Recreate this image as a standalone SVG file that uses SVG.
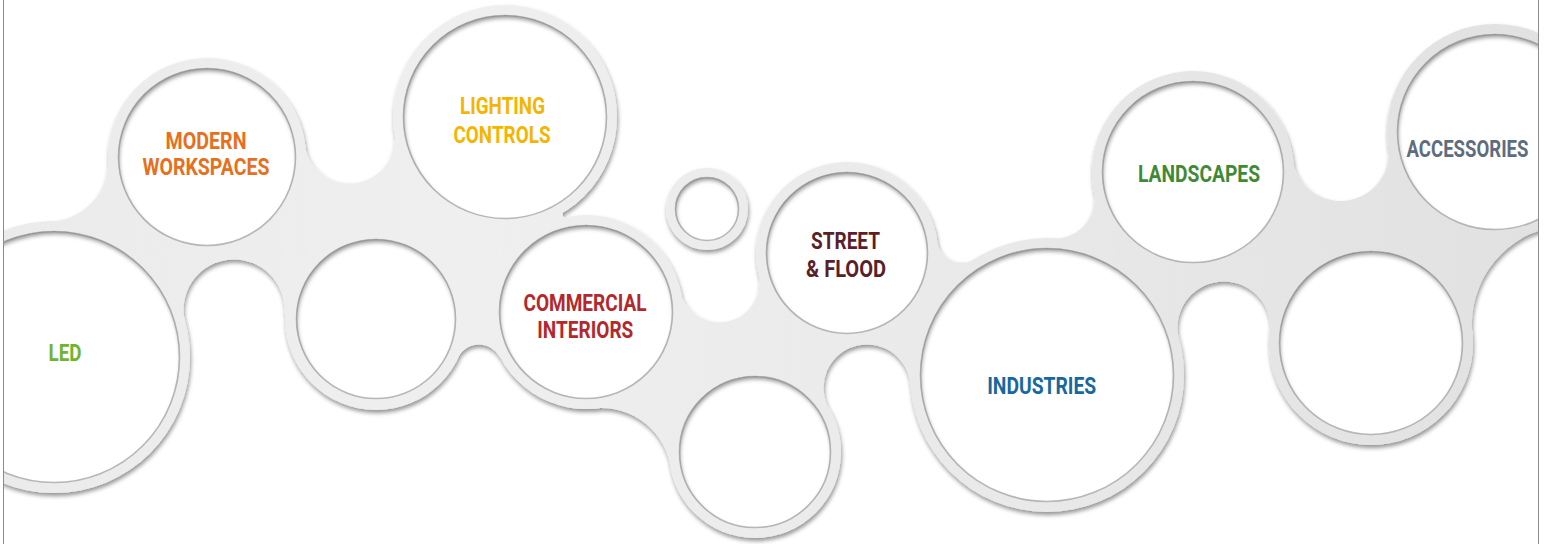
<svg xmlns="http://www.w3.org/2000/svg" width="1551" height="544" viewBox="0 0 1551 544">
<defs>
<style>
.lbl{font-family:Roboto,"Liberation Sans",Arial,sans-serif;font-weight:700;font-size:24px;text-anchor:middle}
.edge{fill:none;stroke:#8a8a8a;stroke-width:1.6;stroke-opacity:.6}
.frame{stroke:#8c8c8c;stroke-width:1}
</style>
<linearGradient id="gBand" gradientUnits="userSpaceOnUse" x1="0" y1="0" x2="1551" y2="0">
<stop offset="0" stop-color="#ebebeb"/><stop offset=".3" stop-color="#efefef"/><stop offset=".65" stop-color="#e9e9e9"/><stop offset="1" stop-color="#e1e1e1"/>
</linearGradient>
<filter id="fPlate" filterUnits="userSpaceOnUse" x="-20" y="-20" width="1600" height="600">
<feGaussianBlur in="SourceAlpha" stdDeviation="2.2" result="b"/>
<feOffset in="b" dx="1" dy="2.5" result="o"/>
<feFlood flood-color="#000" flood-opacity=".42"/>
<feComposite in2="o" operator="in" result="s"/>
<feMerge><feMergeNode in="s"/><feMergeNode in="SourceGraphic"/></feMerge>
</filter>
<filter id="fSoft" filterUnits="userSpaceOnUse" x="-20" y="-20" width="1600" height="600"><feGaussianBlur stdDeviation=".6"/></filter>
<mask id="mNotch" maskUnits="userSpaceOnUse" x="-200" y="-200" width="2000" height="900">
<rect x="-200" y="-200" width="2000" height="900" fill="#fff"/>
<g fill="#000">
<circle cx="48" cy="161" r="60.5"/>
<circle cx="349.6" cy="137.9" r="45.5"/>
<circle cx="566" cy="214" r="3.5"/>
<circle cx="719.4" cy="281.8" r="40.5"/>
<circle cx="961.9" cy="237.1" r="25.5"/>
<circle cx="1054.5" cy="198.1" r="40.5"/>
<circle cx="1340.5" cy="152.5" r="48.5"/>
<circle cx="1572.2" cy="325.2" r="100.5"/>
<circle cx="1223.9" cy="328" r="46.5"/>
<circle cx="867" cy="388" r="43.5"/>
<circle cx="601.2" cy="478.4" r="70.5"/>
<circle cx="478.9" cy="368" r="23.5"/>
<circle cx="234" cy="310" r="50.5"/>
</g>
</mask>
<mask id="mHole" maskUnits="userSpaceOnUse" x="-200" y="-200" width="2000" height="900">
<rect x="-200" y="-200" width="2000" height="900" fill="#fff"/>
<g fill="#000">
<circle cx="54" cy="357" r="126"/>
<circle cx="207" cy="157" r="89"/>
<circle cx="505" cy="117" r="102"/>
<circle cx="376" cy="319" r="80"/>
<circle cx="586" cy="312" r="87"/>
<circle cx="707" cy="209" r="32"/>
<circle cx="847" cy="253" r="81"/>
<circle cx="755" cy="452" r="76"/>
<circle cx="1047" cy="375" r="127"/>
<circle cx="1193" cy="172" r="91"/>
<circle cx="1371" cy="343" r="92"/>
<circle cx="1495" cy="132" r="98"/>
</g>
</mask>
<clipPath id="cFrame"><rect x="4" y="0" width="1534" height="544"/></clipPath>
</defs>
<rect width="1551" height="544" fill="#fff"/>
<g id="connectors" clip-path="url(#cFrame)">
<g filter="url(#fPlate)">
<g mask="url(#mHole)" fill="url(#gBand)">
<path mask="url(#mNotch)" d="M505 117 L566 214 L586 312 L719.4 281.8 L847 253 L961.9 237.1 L1047 375 L1054.5 198.1 L1193 172 L1340.5 152.5 L1495 132 L1572.2 325.2 L1371 343 L1223.9 328 L1047 375 L867 388 L755 452 L601.2 478.4 L586 312 L478.9 368 L376 319 L234 310 L54 357 L48 161 L207 157 L349.6 137.9 Z"/>
<circle cx="54" cy="357" r="136"/>
<circle cx="207" cy="157" r="99"/>
<circle cx="505" cy="117" r="112"/>
<circle cx="376" cy="319" r="91"/>
<circle cx="586" cy="312" r="97"/>
<circle cx="707" cy="209" r="41"/>
<circle cx="847" cy="253" r="91"/>
<circle cx="755" cy="452" r="86"/>
<circle cx="1047" cy="375" r="137"/>
<circle cx="1193" cy="172" r="101"/>
<circle cx="1371" cy="343" r="102"/>
<circle cx="1495" cy="132" r="108"/>
</g>
</g>
</g>
<g id="nodes">
<g id="node-led"><circle class="edge" filter="url(#fSoft)" clip-path="url(#cFrame)" cx="54" cy="357" r="125.5"/><text class="lbl" x="65" y="361" fill="#70b52f" textLength="33" lengthAdjust="spacingAndGlyphs">LED</text></g>
<g id="node-modern-workspaces"><circle class="edge" filter="url(#fSoft)" cx="207" cy="157" r="88.5"/><text class="lbl" x="206" y="148.5" fill="#e6701d" textLength="81" lengthAdjust="spacingAndGlyphs">MODERN</text><text class="lbl" x="206" y="175" fill="#e6701d" textLength="127" lengthAdjust="spacingAndGlyphs">WORKSPACES</text></g>
<g id="node-lighting-controls"><circle class="edge" filter="url(#fSoft)" cx="505" cy="117" r="101.5"/><text class="lbl" x="502.5" y="114" fill="#f4b400" textLength="85" lengthAdjust="spacingAndGlyphs">LIGHTING</text><text class="lbl" x="502" y="142.7" fill="#f4b400" textLength="97" lengthAdjust="spacingAndGlyphs">CONTROLS</text></g>
<g id="node-blank-1"><circle class="edge" filter="url(#fSoft)" cx="376" cy="319" r="79.5"/></g>
<g id="node-commercial-interiors"><circle class="edge" filter="url(#fSoft)" cx="586" cy="312" r="86.5"/><text class="lbl" x="585" y="310.7" fill="#b3282d" textLength="123" lengthAdjust="spacingAndGlyphs">COMMERCIAL</text><text class="lbl" x="585.3" y="338.3" fill="#b3282d" textLength="96" lengthAdjust="spacingAndGlyphs">INTERIORS</text></g>
<g id="node-small"><circle class="edge" filter="url(#fSoft)" cx="707" cy="209" r="31.5"/></g>
<g id="node-street-flood"><circle class="edge" filter="url(#fSoft)" cx="847" cy="253" r="80.5"/><text class="lbl" x="845.5" y="249.3" fill="#5b1f2a" textLength="69" lengthAdjust="spacingAndGlyphs">STREET</text><text class="lbl" x="846" y="277.3" fill="#5b1f2a" textLength="80" lengthAdjust="spacingAndGlyphs">&amp; FLOOD</text></g>
<g id="node-blank-2"><circle class="edge" filter="url(#fSoft)" cx="755" cy="452" r="75.5"/></g>
<g id="node-industries"><circle class="edge" filter="url(#fSoft)" cx="1047" cy="375" r="126.5"/><text class="lbl" x="1041.7" y="393.7" fill="#18679f" textLength="109" lengthAdjust="spacingAndGlyphs">INDUSTRIES</text></g>
<g id="node-landscapes"><circle class="edge" filter="url(#fSoft)" cx="1193" cy="172" r="90.5"/><text class="lbl" x="1199" y="182.3" fill="#3f8a36" textLength="122" lengthAdjust="spacingAndGlyphs">LANDSCAPES</text></g>
<g id="node-blank-3"><circle class="edge" filter="url(#fSoft)" cx="1371" cy="343" r="91.5"/></g>
<g id="node-accessories"><circle class="edge" filter="url(#fSoft)" clip-path="url(#cFrame)" cx="1495" cy="132" r="97.5"/><text class="lbl" transform="translate(1467.5 156.7) scale(0.82 1)" x="0" y="0" fill="#5e6c80" textLength="148.8" lengthAdjust="spacingAndGlyphs">ACCESSORIES</text></g>
</g>
<line class="frame" x1="3.5" y1="0" x2="3.5" y2="544"/>
<line class="frame" x1="1538.5" y1="0" x2="1538.5" y2="544"/>
</svg>
